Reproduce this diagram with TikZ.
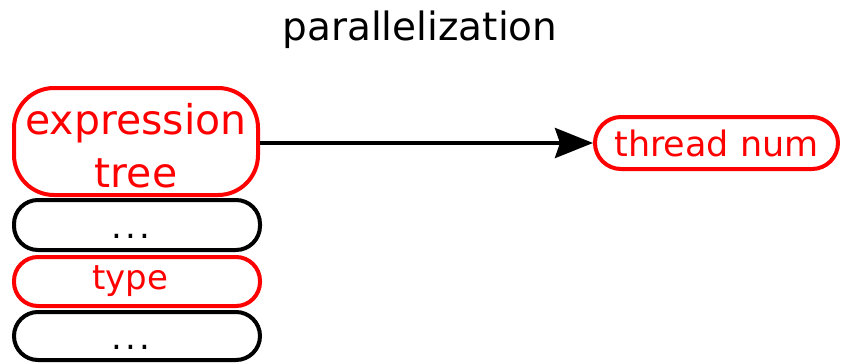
\documentclass[tikz,border=0pt]{standalone}
\usepackage{fontspec}
\setmainfont{DejaVu Sans}
\usetikzlibrary{arrows.meta}
\definecolor{hlred}{RGB}{255,0,0}
\newcommand{\ellipsisdots}{.\kern3pt.\kern3pt.\kern12pt}
\begin{document}
\begin{tikzpicture}[x=1pt,y=-1pt,
  field/.style={draw, line width=4pt, rounded corners=24pt, inner sep=0pt,
    align=center, fill=white},
  hot/.style={field, draw=hlred, text=hlred},
  plain/.style={field, draw=black, text=black},
  link/.style={line width=4pt, -{Stealth[length=38pt,width=30pt,inset=5pt]}}]
\useasboundingbox (0,0) rectangle (844,362);
\node[font=\fontsize{39}{46}\selectfont] (title) at (420,30) {parallelization};
\node[hot, rounded corners=40pt, minimum width=244pt, minimum height=107pt,
  font=\fontsize{41}{53}\selectfont]
  (expr) at (136,141.5)
  {\raisebox{0pt}[\height][\dimexpr\depth-18pt\relax]{\begin{tabular}{@{}c@{}}expression\\tree\end{tabular}}};
\node[plain, minimum width=246pt, minimum height=50pt, text height=30pt, text depth=4pt,
  font=\fontsize{34}{40}\selectfont]
  (dotsA) at (137,225) {\ellipsisdots};
\node[hot, minimum width=246pt, minimum height=49pt, font=\fontsize{34}{40}\selectfont]
  (type) at (137,281.5) {type\kern13pt};
\node[plain, minimum width=246pt, minimum height=48pt, text height=30pt, text depth=4pt,
  font=\fontsize{34}{40}\selectfont]
  (dotsB) at (137,336) {\ellipsisdots};
\node[hot, rounded corners=26pt, minimum width=243pt, minimum height=52pt,
  font=\fontsize{35}{42}\selectfont]
  (thread) at (716.5,143) {thread num};
\draw[link] (expr.east |- 0,143) -- (thread.west);
\end{tikzpicture}
\end{document}
